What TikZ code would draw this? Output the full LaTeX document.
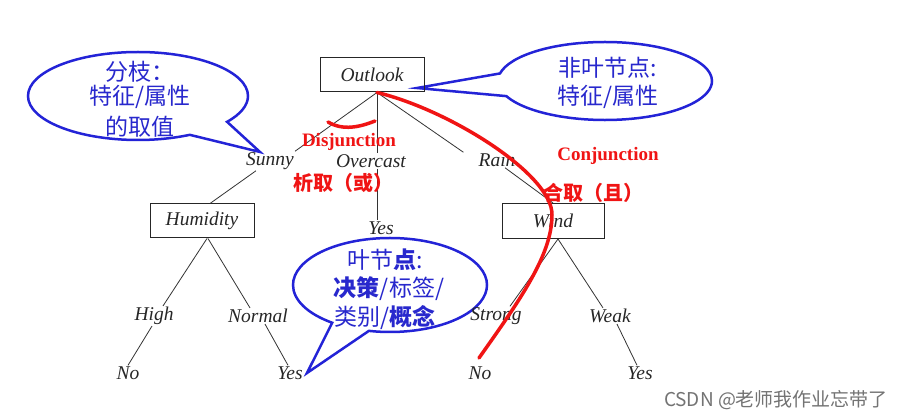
\documentclass[tikz,border=0pt]{standalone}
\usepackage{fontspec}
\setmainfont{Liberation Serif}
\newfontfamily\cjk{Noto Sans CJK SC}
\usetikzlibrary{shapes.callouts,calc}
\definecolor{cblue}{RGB}{35,35,215}
\definecolor{tblue}{RGB}{40,40,205}
\definecolor{cred}{RGB}{240,20,20}
\begin{document}
\begin{tikzpicture}[x=1pt,y=-1pt,
  lbl/.style={font=\fontsize{19.5}{19.5}\selectfont\itshape, text=black!85, inner sep=1pt},
  box/.style={draw=black!85, line width=1pt, minimum width=104pt, minimum height=34pt, inner sep=0pt, font=\fontsize{19.5}{19.5}\selectfont\itshape, text=black!85},
  edge/.style={line width=0.8pt, black!80},
  bubble/.style={ellipse callout, draw=cblue, line width=2.5pt, fill=white, inner sep=0pt, callout pointer arc=24},
  btxt/.style={font=\cjk\fontsize{23}{23}\selectfont, text=tblue, inner sep=0pt},
  rtxt/.style={font=\bfseries\fontsize{19}{19}\selectfont, text=cred, inner sep=0pt},
  rctxt/.style={font=\cjk\bfseries\fontsize{20}{20}\selectfont, text=cred, inner sep=0pt},
  redline/.style={cred, line width=3.5pt, line cap=round}
]
\useasboundingbox[fill=white] (0,0) rectangle (906,419);

% callouts
\coordinate (tipL) at (260,152);
\coordinate (tipR) at (417,88);
\coordinate (tipB) at (307,373);
\node[bubble, minimum width=220pt, minimum height=88pt, callout pointer arc=26, callout absolute pointer={(tipL)}] (bubL) at (138,96) {};
\node[bubble, minimum width=214pt, minimum height=78pt, callout pointer arc=34, callout absolute pointer={(tipR)}] (bubR) at (605,81) {};
\node[bubble, minimum width=194pt, minimum height=94pt, callout absolute pointer={(tipB)}] (bubB) at (390,285) {};

\node[btxt] (l1) at (140,72) {分枝：};
\node[btxt] (l2) at (140,97) {特征/属性};
\node[btxt] (l3) at (140,127) {的取值};
\node[btxt] (r1) at (608,68) {非叶节点:};
\node[btxt] (r2) at (608,97) {特征/属性};
\node[btxt] (b1) at (385,260) {叶节\textbf{点}:};
\node[btxt] (b2) at (389,289) {\textbf{决策}/标签/};
\node[btxt] (b3) at (385,318) {类别/\textbf{概念}};

% tree
\node[box] (outlook) at (372,75) {Outlook};
\node[box] (humidity) at (202,221) {Humidity};
\node[box, minimum width=102pt, minimum height=35pt] (wind) at (553,221) {Wind};

\node[lbl] (sunny) at (270,161) {Sunny};
\node[lbl] (overcast) at (371,161) {Overcast};
\node[lbl] (rain) at (497,160) {Rain};
\node[lbl] (yes1) at (381,228) {Yes};
\node[lbl] (high) at (154,316) {High};
\node[lbl] (normal) at (258,316) {Normal};
\node[lbl] (strong) at (496,316) {Strong};
\node[lbl] (weak) at (610,316) {Weak};
\node[lbl] (no1) at (128,373) {No};
\node[lbl] (yes2) at (290,373) {Yes};
\node[lbl] (no2) at (480,373) {No};
\node[lbl] (yes3) at (640,373) {Yes};

\draw[edge] ([xshift=5pt]outlook.south) -- (sunny.north east);
\draw[edge] ([xshift=5pt]outlook.south) -- ([xshift=6pt]overcast.north);
\draw[edge] ([xshift=6pt]overcast.south) -- ([xshift=-4pt]yes1.north);
\draw[edge] ([xshift=5pt]outlook.south) -- ([xshift=-14pt]rain.north west);
\draw[edge] ([xshift=-14pt]sunny.south) -- ([xshift=8pt]humidity.north);
\draw[edge] ([xshift=8pt]rain.south) -- (wind.north);
\draw[edge] ([xshift=5pt]humidity.south) -- ([xshift=9pt]high.north);
\draw[edge] ([xshift=6pt]humidity.south) -- ([xshift=-8pt]normal.north);
\draw[edge] ([xshift=-2pt]high.south) -- (no1.north);
\draw[edge] ([xshift=7pt]normal.south) -- ([xshift=-2pt]yes2.north);
\draw[edge] ([xshift=5pt]wind.south) -- ([xshift=14pt]strong.north);
\draw[edge] ([xshift=5pt]wind.south) -- ([xshift=-7pt]weak.north);
\draw[edge] ([xshift=7pt]weak.south) -- ([xshift=-3pt]yes3.north);

% red annotations
\node[rtxt] (disj) at (349,142) {Disjunction};
\node[rctxt] (xiqu) at (343,183) {析取（或）};
\node[rtxt] (conj) at (608,156) {Conjunction};
\node[rctxt] (hequ) at (593,193) {合取（且）};
\draw[redline] (328,122) .. controls (343,131) and (360,127) .. (375,121);
\draw[redline] ([xshift=5pt]outlook.south) .. controls (450,110) and (553,175) .. (552,215)
  .. controls (552,255) and (520,300) .. (479,358);

% watermark
\node[font=\cjk\fontsize{19}{19}\selectfont, text=black!55, inner sep=0pt] (wm) at (776,400) {CSDN @老师我作业忘带了};
\end{tikzpicture}
\end{document}
